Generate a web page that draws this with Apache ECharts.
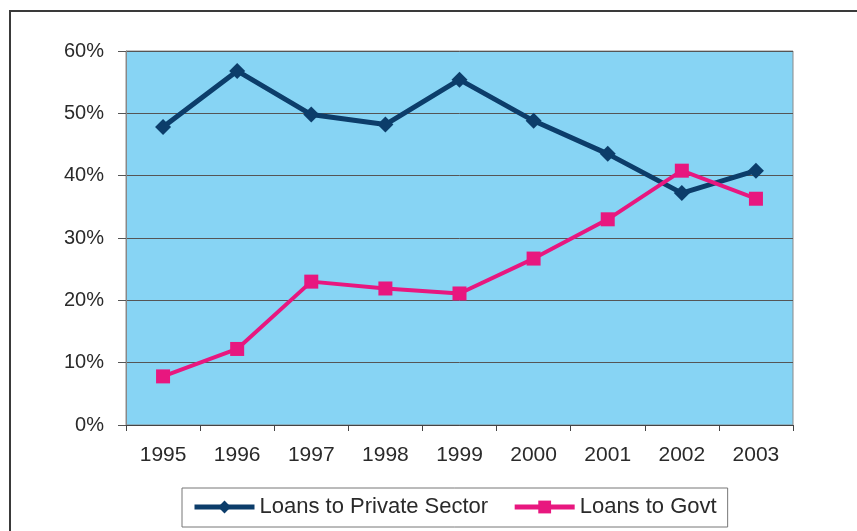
<!DOCTYPE html>
<html>
<head>
<meta charset="utf-8">
<script src="https://cdn.jsdelivr.net/npm/echarts@6/dist/echarts.min.js"></script>
<style>
  html, body { margin: 0; padding: 0; background: #fff; }
  #chart { width: 857px; height: 531px; }
</style>
</head>
<body>
<div id="chart"></div>
<script>
// Years on the category axis
var years = ['1995', '1996', '1997', '1998', '1999', '2000', '2001', '2002', '2003'];
// Share of loans, in percent
var privateSector = [47.8, 56.8, 49.8, 48.2, 55.4, 48.8, 43.5, 37.2, 40.8];
var govt = [7.8, 12.2, 23.0, 21.9, 21.1, 26.7, 33.0, 40.8, 36.3];
var seriesNames = ['Loans to Private Sector', 'Loans to Govt'];

var textColor = '#2a2a2a';
var font = 'Liberation Sans, Arial, sans-serif';
var navy = '#0c3d6a';
var pink = '#e8177f';

var chart = echarts.init(document.getElementById('chart'));
chart.setOption({
  animation: false,
  backgroundColor: '#ffffff',
  graphic: [{
    type: 'rect',
    shape: { x: 10, y: 11, width: 900, height: 600 },
    style: { fill: 'none', stroke: '#3a3a3a', lineWidth: 2 },
    silent: true
  }],
  grid: {
    left: 126, right: 64, top: 51, bottom: 106,
    show: true,
    backgroundColor: '#87d4f4',
    borderColor: '#8a8a8a',
    borderWidth: 1
  },
  legend: {
    left: 182, top: 488,
    padding: [8, 11, 9, 10],
    itemGap: 24,
    itemWidth: 60,
    itemHeight: 16,
    borderColor: '#777',
    borderWidth: 1,
    backgroundColor: '#fff',
    lineStyle: { width: 5 },
    textStyle: { color: textColor, fontSize: 22, fontFamily: font },
    data: seriesNames
  },
  xAxis: {
    type: 'category',
    data: years,
    boundaryGap: true,
    axisLine: { lineStyle: { color: '#444', width: 1 } },
    axisTick: { show: true, interval: 0, length: 6, lineStyle: { color: '#444' } },
    axisLabel: { color: textColor, fontSize: 21, fontFamily: font, margin: 20 }
  },
  yAxis: {
    type: 'value',
    min: 0, max: 60, interval: 10,
    axisLine: { show: true, lineStyle: { color: '#888', width: 1 } },
    axisTick: { show: true, length: 8, lineStyle: { color: '#555' } },
    axisLabel: { color: textColor, fontSize: 20, fontFamily: font, margin: 22, formatter: '{value}%' },
    splitLine: { show: true, lineStyle: { color: '#555', width: 1 } }
  },
  series: [{
    name: seriesNames[0],
    type: 'line',
    data: privateSector,
    symbol: 'diamond',
    symbolSize: 16,
    lineStyle: { color: navy, width: 5 },
    itemStyle: { color: navy },
    z: 3
  }, {
    name: seriesNames[1],
    type: 'line',
    data: govt,
    symbol: 'rect',
    symbolSize: 14,
    lineStyle: { color: pink, width: 4 },
    itemStyle: { color: pink },
    z: 4
  }]
});
</script>
</body>
</html>
